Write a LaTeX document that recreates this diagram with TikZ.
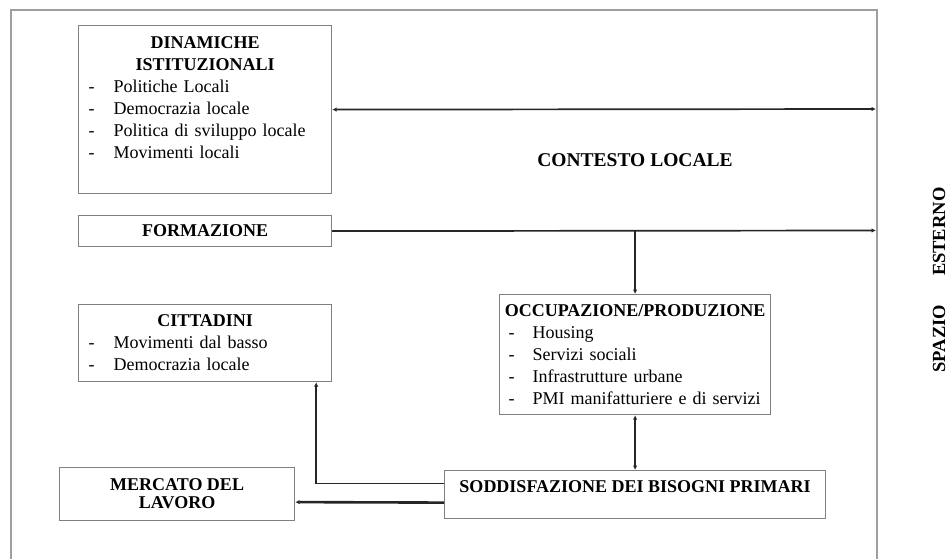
\documentclass[tikz,border=0pt]{standalone}
\usepackage{fontspec}
\setmainfont{Liberation Serif}
\usetikzlibrary{arrows.meta}
\definecolor{bordo}{gray}{0.5}
\definecolor{cornicegrigia}{gray}{0.62}
\definecolor{linea}{gray}{0.15}

\begin{document}
\begin{tikzpicture}[
  x=1pt, y=-1pt,
  >={Latex[length=4.5pt,width=4.5pt]},
  blocco/.style={draw=bordo, line width=1.2pt, anchor=north west, inner xsep=10pt,
    align=left, font=\fontsize{18pt}{22pt}\selectfont},
  centrato/.style={blocco, align=center},
  freccia/.style={->, line width=1.7pt, draw=linea},
  doppia/.style={<->, line width=1.7pt, draw=linea},
  spessa/.style={->, line width=2.6pt, draw=linea},
  cornice/.style={draw=cornicegrigia, line width=1.5pt},
  titolo/.style={font=\fontsize{19.5pt}{22pt}\selectfont\bfseries}
]
\useasboundingbox (0,0) rectangle (948,559);

% contesto locale
\draw[cornice] (11,559) -- (11,10) -- (877,10) -- (877,559);
\node[titolo] (contesto) at (635,160) {CONTESTO LOCALE};
\node[titolo, font=\fontsize{18.5pt}{22pt}\selectfont\bfseries, rotate=90, inner sep=0pt] (spazio) at (939,280)
  {SPAZIO\hspace{29pt}ESTERNO};

% blocchi
\node[blocco, minimum width=253pt, minimum height=168pt, text width=233pt] (dinamiche) at (78,25)
  {\makebox[\linewidth][c]{\bfseries DINAMICHE}\\
   \makebox[\linewidth][c]{\bfseries ISTITUZIONALI}\\
   \makebox[25pt][l]{-}Politiche Locali\\
   \makebox[25pt][l]{-}Democrazia locale\\
   \makebox[25pt][l]{-}Politica di sviluppo locale\\
   \makebox[25pt][l]{-}Movimenti locali\rule[-24pt]{0pt}{24pt}};
\node[centrato, minimum width=253pt, minimum height=31pt, inner ysep=0pt] (formazione) at (78,215)
  {\bfseries FORMAZIONE};
\node[blocco, minimum width=253pt, minimum height=77pt, text width=233pt] (cittadini) at (78,304)
  {\makebox[\linewidth][c]{\bfseries CITTADINI}\\
   \makebox[25pt][l]{-}Movimenti dal basso\\
   \makebox[25pt][l]{-}Democrazia locale};
\node[blocco, minimum width=271pt, minimum height=120pt, text width=253pt, inner xsep=9pt] (occupazione) at (499,294)
  {\makebox[\linewidth][c]{\bfseries OCCUPAZIONE/PRODUZIONE}\\
   \makebox[24pt][l]{-}Housing\\
   \makebox[24pt][l]{-}Servizi sociali\\
   \makebox[24pt][l]{-}Infrastrutture urbane\\
   \makebox[24pt][l]{-}PMI manifatturiere e di servizi};
\node[blocco, minimum width=381pt, inner xsep=8pt, inner ysep=0pt, text height=22pt, text depth=26pt] (soddisfazione) at (444,470)
  {\bfseries SODDISFAZIONE DEI BISOGNI PRIMARI};
\node[centrato, minimum width=235pt, minimum height=53pt, inner ysep=0pt] (mercato) at (59,467)
  {\bfseries MERCATO DEL\\[-4pt]\bfseries LAVORO};

% connessioni
\coordinate (bordodin) at (876,109);
\coordinate (bordoform) at (876,230.5);
\draw[doppia] (dinamiche.east) -- (bordodin);
\draw[freccia] (formazione.east) -- (bordoform);
\draw[freccia] (formazione.east -| occupazione.north) -- (occupazione.north);
\draw[doppia] (occupazione.south) -- (soddisfazione.north);
\draw[freccia] ([yshift=11pt]soddisfazione.west) -| ([xshift=-16pt]cittadini.south east);
\draw[spessa] ([yshift=-8pt]soddisfazione.west) -- ([yshift=-8pt]mercato.east);
\end{tikzpicture}
\end{document}
